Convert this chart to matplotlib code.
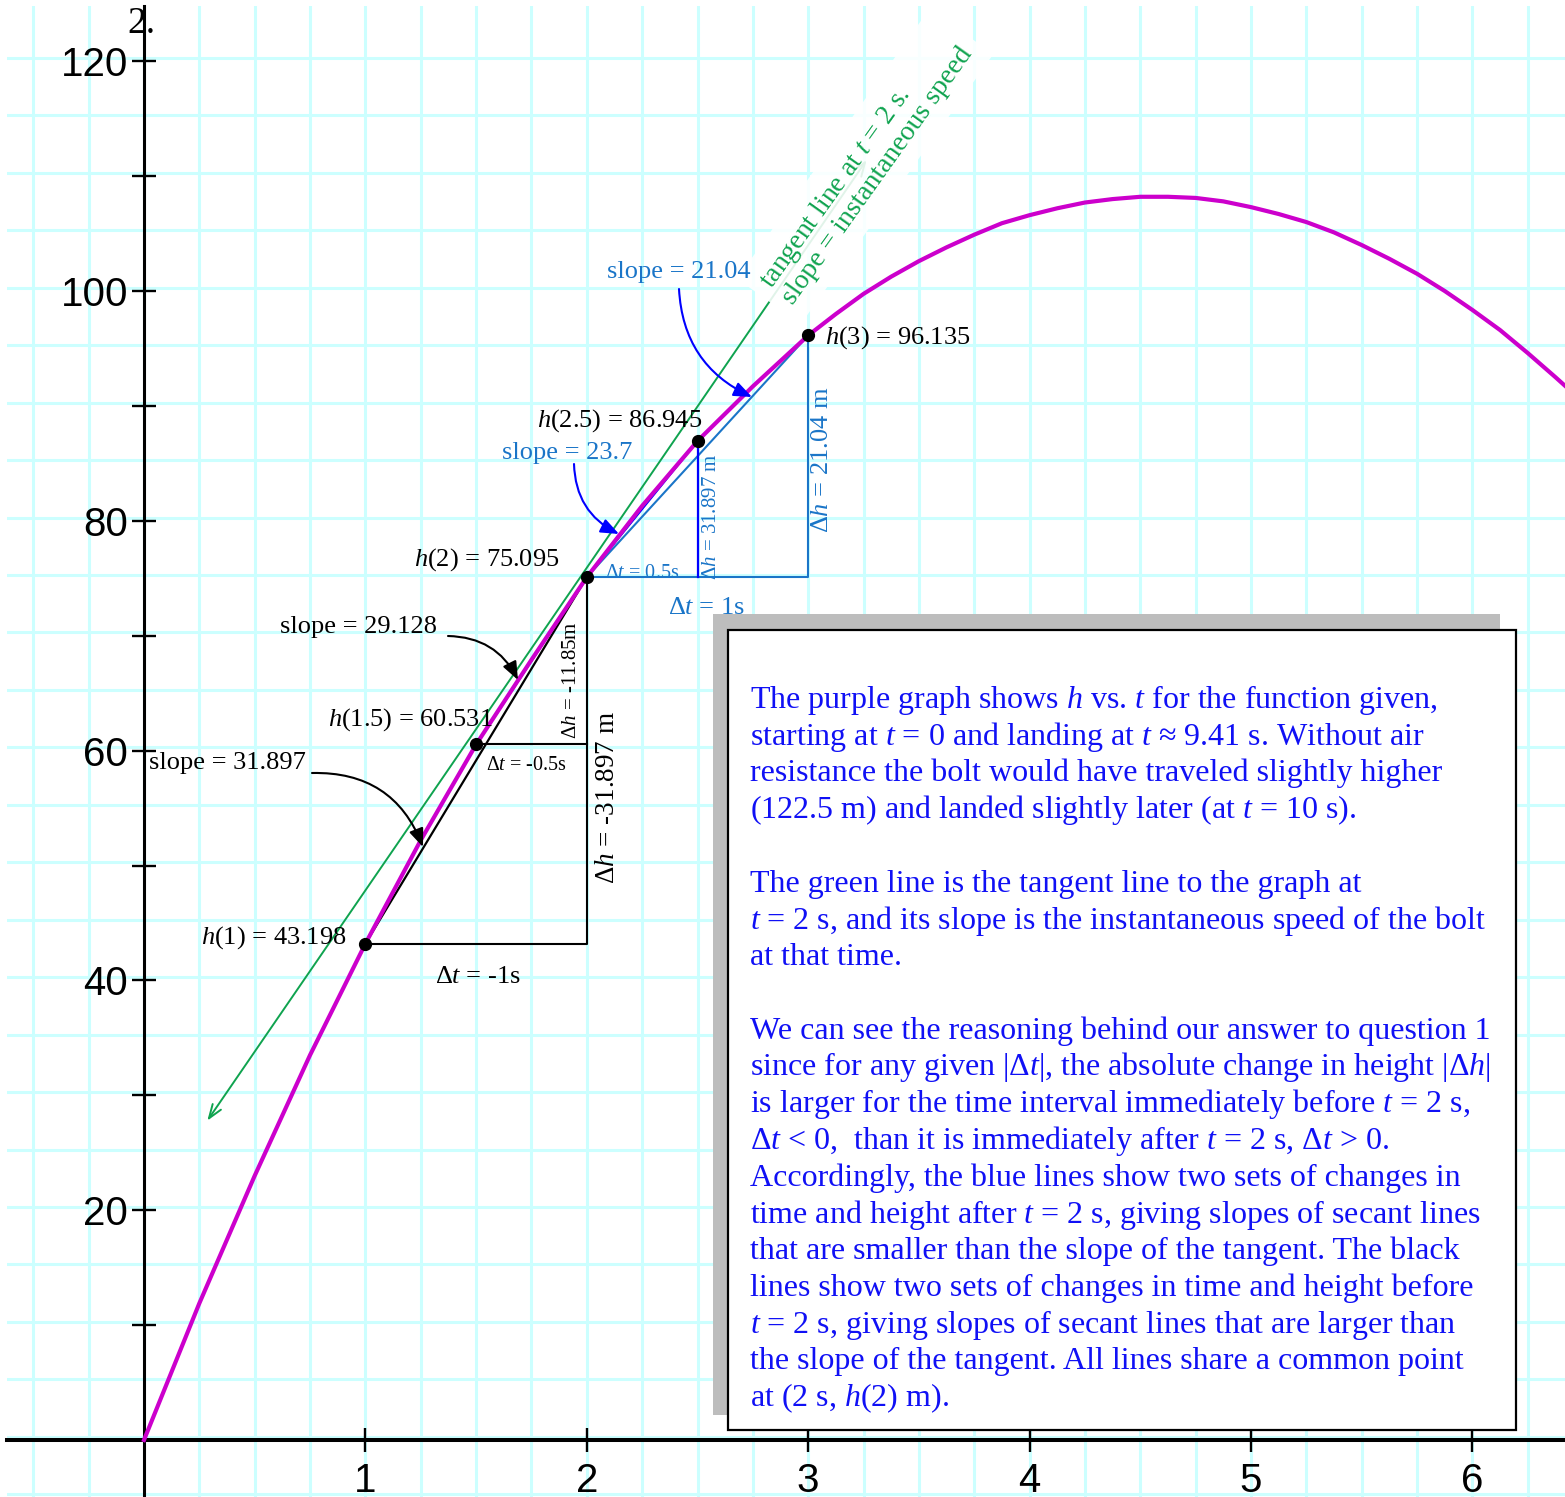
import matplotlib
matplotlib.use("Agg")
import matplotlib.pyplot as plt
from matplotlib.patches import Rectangle

plt.rcParams['font.family'] = ['Liberation Serif', 'DejaVu Serif']
plt.rcParams['mathtext.fontset'] = 'custom'
plt.rcParams['mathtext.rm'] = 'Liberation Serif'
plt.rcParams['mathtext.it'] = 'Liberation Serif:italic'
plt.rcParams['mathtext.bf'] = 'Liberation Serif:bold'

# ---------------- data ----------------
t_curve = [0, 0.25, 0.5, 0.75, 1.0, 1.25, 1.5, 1.75, 2.0, 2.25, 2.5, 2.75, 3.0,
           3.125, 3.25, 3.375, 3.5, 3.625, 3.75, 3.875, 4.0, 4.125, 4.25, 4.375,
           4.5, 4.625, 4.75, 4.875, 5.0, 5.125, 5.25, 5.375, 5.5, 5.625, 5.75,
           5.875, 6.0, 6.125, 6.25, 6.375, 6.45]
h_curve = [0, 11.9, 23.0, 33.5, 43.198, 52.2, 60.531, 67.9, 75.095, 81.3, 86.945, 91.7, 96.135,
           98.0, 99.75, 101.25, 102.6, 103.8, 104.9, 105.9, 106.6, 107.2, 107.7, 108.0,
           108.2, 108.2, 108.1, 107.8, 107.3, 106.7, 106.0, 105.1, 104.0, 102.8, 101.5,
           100.0, 98.35, 96.6, 94.6, 92.5, 91.2]

pt_t = [1.0, 1.5, 2.0, 2.5, 3.0]
pt_h = [43.198, 60.531, 75.095, 86.945, 96.135]

tangent_t = [0.286, 3.264]
tangent_h = [27.79, 111.4]

x_ticks = [1, 2, 3, 4, 5, 6]
x_tick_labels = ['1', '2', '3', '4', '5', '6']
y_ticks = [10, 20, 30, 40, 50, 60, 70, 80, 90, 100, 110, 120]
y_tick_labels = ['', '20', '', '40', '', '60', '', '80', '', '100', '', '120']

box_lines = [
    "The purple graph shows $h$ vs. $t$ for the function given,",
    "starting at $t$ = 0 and landing at $t$ \u2248 9.41 s. Without air",
    "resistance the bolt would have traveled slightly higher",
    "(122.5 m) and landed slightly later (at $t$ = 10 s).",
    "",
    "The green line is the tangent line to the graph at",
    "$t$ = 2 s, and its slope is the instantaneous speed of the bolt",
    "at that time.",
    "",
    "We can see the reasoning behind our answer to question 1",
    "since for any given |\u0394$t$|, the absolute change in height |\u0394$h$|",
    "is larger for the time interval immediately before $t$ = 2 s,",
    "\u0394$t$ < 0,  than it is immediately after $t$ = 2 s, \u0394$t$ > 0.",
    "Accordingly, the blue lines show two sets of changes in",
    "time and height after $t$ = 2 s, giving slopes of secant lines",
    "that are smaller than the slope of the tangent. The black",
    "lines show two sets of changes in time and height before",
    "$t$ = 2 s, giving slopes of secant lines that are larger than",
    "the slope of the tangent. All lines share a common point",
    "at (2 s, $h$(2) m).",
]

# ---------------- styles ----------------
W, H = 1565, 1497
X0, Y0 = 144.0, 1440.0
XPIX, YPIX = 221.4, 11.49
GRID = '#ccffff'
MAG = '#cc00cc'
GREEN = '#0fa34f'
MBLUE = '#1a75c8'
BLUE = '#0000ff'
TXTBLUE = '#1010f5'
BLACK = '#000000'


def P(x, y):
    return ((x - X0) / XPIX, (Y0 - y) / YPIX)


def F(x, y):
    return (x / W, 1 - y / H)


fig = plt.figure(figsize=(W / 100, H / 100), dpi=100)
ax = fig.add_axes([7 / W, 0, 1 - 7 / W, 1 - 6 / H])
ax.set_xlim((7 - X0) / XPIX, (W - X0) / XPIX)
ax.set_ylim((Y0 - H) / YPIX, (Y0 - 6) / YPIX)

# grid
for k in range(-3, 27):
    ax.axvline(k * 0.25, color=GRID, lw=2.2, zorder=0)
for k in range(-1, 26):
    ax.axhline(5 * k + 0.28, color=GRID, lw=2.2, zorder=0)

# axes through origin
for s in ['top', 'right']:
    ax.spines[s].set_visible(False)
ax.spines['left'].set_position(('data', 0))
ax.spines['bottom'].set_position(('data', 0))
ax.spines['left'].set_linewidth(2.2)
ax.spines['bottom'].set_linewidth(2.9)
ax.spines['left'].set_zorder(2)
ax.spines['bottom'].set_zorder(2)
ax.set_xticks(x_ticks)
ax.set_xticklabels(x_tick_labels)
ax.set_yticks(y_ticks)
ax.set_yticklabels(y_tick_labels)
ax.tick_params(direction='inout', length=17, width=1.7, labelsize=29,
               labelfontfamily='Liberation Sans', colors='black')
ax.tick_params(axis='y', pad=3)
ax.tick_params(axis='x', pad=7)

# secant lines (black, before t = 2)
ax.plot([pt_t[0], pt_t[2], pt_t[2]], [pt_h[0], pt_h[0], pt_h[2]], color=BLACK, lw=1.5, zorder=3)
ax.plot([pt_t[0], pt_t[2]], [pt_h[0], pt_h[2]], color=BLACK, lw=1.6, zorder=3)
ax.plot([pt_t[1], pt_t[2]], [pt_h[1], pt_h[1]], color=BLACK, lw=1.5, zorder=3)
ax.plot([pt_t[1], pt_t[2]], [pt_h[1], pt_h[2]], color=BLACK, lw=1.6, zorder=3)

# secant lines (blue, after t = 2)
ax.plot([pt_t[2], pt_t[4], pt_t[4]], [pt_h[2], pt_h[2], pt_h[4]], color=MBLUE, lw=1.5, zorder=3)
ax.plot([pt_t[2], pt_t[4]], [pt_h[2], pt_h[4]], color=MBLUE, lw=1.5, zorder=3)
ax.plot([pt_t[3], pt_t[3]], [pt_h[2], pt_h[3]], color=BLUE, lw=1.6, zorder=3)
ax.plot([pt_t[2], pt_t[3]], [pt_h[2], pt_h[3]], color=BLUE, lw=1.5, zorder=3)

# tangent line
ax.annotate('', xy=(tangent_t[1], tangent_h[1]), xytext=(tangent_t[0], tangent_h[0]),
            arrowprops=dict(arrowstyle='<->,head_length=0.5,head_width=0.18', color=GREEN,
                            lw=1.4, shrinkA=0, shrinkB=0, mutation_scale=20), zorder=3)

# curve
ax.plot(t_curve, h_curve, color=MAG, lw=3.0, zorder=4, solid_joinstyle='round')

# points
ax.plot(pt_t, pt_h, 'o', color=BLACK, ms=8.5, zorder=6)

# green rotated label
ax.text(*P(866, 167), 'tangent line at $t$ = 2 s.\nslope = instantaneous speed',
        rotation=54.5, rotation_mode='anchor', ha='center', va='center',
        multialignment='left', fontsize=20, color=GREEN, zorder=5, linespacing=1.0,
        bbox=dict(boxstyle='square,pad=0.4', fc='white', ec='none', alpha=0.88))

# labels
labels = [
    ('$h$(3) = 96.135', 825, 338, 'left', 0, 19, BLACK),
    ('$h$(2.5) = 86.945', 620, 421, 'center', 0, 19, BLACK),
    ('slope = 23.7', 567, 453, 'center', 0, 19, MBLUE),
    ('$h$(2) = 75.095', 487, 560, 'center', 0, 19, BLACK),
    ('slope = 29.128', 359, 627, 'center', 0, 19, BLACK),
    ('$h$(1.5) = 60.531', 410, 720, 'center', 0, 19, BLACK),
    ('slope = 31.897', 227, 763, 'center', 0, 19, BLACK),
    ('$h$(1) = 43.198', 274, 938, 'center', 0, 19, BLACK),
    ('\u0394$t$ = -1s', 478, 977, 'center', 0, 19, BLACK),
    ('\u0394$t$ = -0.5s', 526, 765, 'center', 0, 14.5, BLACK),
    ('\u0394$h$ = -11.85m', 572, 680, 'center', 90, 15, BLACK),
    ('\u0394$h$ = -31.897 m', 607, 797, 'center', 90, 19.5, BLACK),
    ('\u0394$t$ = 0.5s', 642, 573, 'center', 0, 14.5, MBLUE),
    ('\u0394$h$ = 31.897 m', 711, 517, 'center', 90, 15, MBLUE),
    ('\u0394$h$ = 21.04 m', 822, 460, 'center', 90, 19, MBLUE),
    ('\u0394$t$ = 1s', 706, 608, 'center', 0, 19, MBLUE),
    ('slope = 21.04', 679, 272, 'center', 0, 19, MBLUE),
]
for txt, x, y, ha, rot, fs, col in labels:
    ax.text(*P(x, y), txt, ha=ha, va='center', rotation=rot, fontsize=fs, color=col, zorder=7)

# curved arrows
arrows = [
    ((679, 289), (752, 397), 0.3, BLUE),
    ((574, 464), (619, 534), 0.3, BLUE),
    ((448, 636), (518, 680), -0.3, BLACK),
    ((312, 773), (423, 847), -0.35, BLACK),
]
for (sx, sy), (ex, ey), rad, col in arrows:
    ax.annotate('', xy=P(ex, ey), xytext=P(sx, sy),
                arrowprops=dict(arrowstyle='-|>,head_length=0.55,head_width=0.22',
                                connectionstyle='arc3,rad=%s' % rad, color=col, lw=1.5,
                                shrinkA=0, shrinkB=0, mutation_scale=20), zorder=7)

# "2." label
fig.text(*F(127, 33), '2.', fontsize=27, ha='left', va='baseline', color=BLACK)

# text box with shadow
ax.add_patch(Rectangle(F(713, 1415), (1500 - 713) / W, (1415 - 614) / H, transform=fig.transFigure,
                       fc='#bdbdbd', ec='none', zorder=8, clip_on=False))
ax.add_patch(Rectangle(F(728, 1430), (1516 - 728) / W, (1430 - 630) / H, transform=fig.transFigure,
                       fc='white', ec='black', lw=1.6, zorder=9, clip_on=False))

box_texts = []
for i, line in enumerate(box_lines):
    tx = ax.text(*F(750, 708 + 36.75 * i), line, transform=fig.transFigure, ha='left',
                 va='baseline', fontsize=22, color=TXTBLUE, zorder=10)
    box_texts.append(tx)

# fit font size to the reference line widths
r = fig.canvas.get_renderer()
targets = {0: 687, 6: 733, 9: 739, 10: 742, 13: 712}
ratios = [tw / box_texts[i].get_window_extent(r).width for i, tw in targets.items()]
fs = 22 * sum(ratios) / len(ratios)
for tx in box_texts:
    tx.set_fontsize(fs)

fig.savefig('out.png', dpi=100)
